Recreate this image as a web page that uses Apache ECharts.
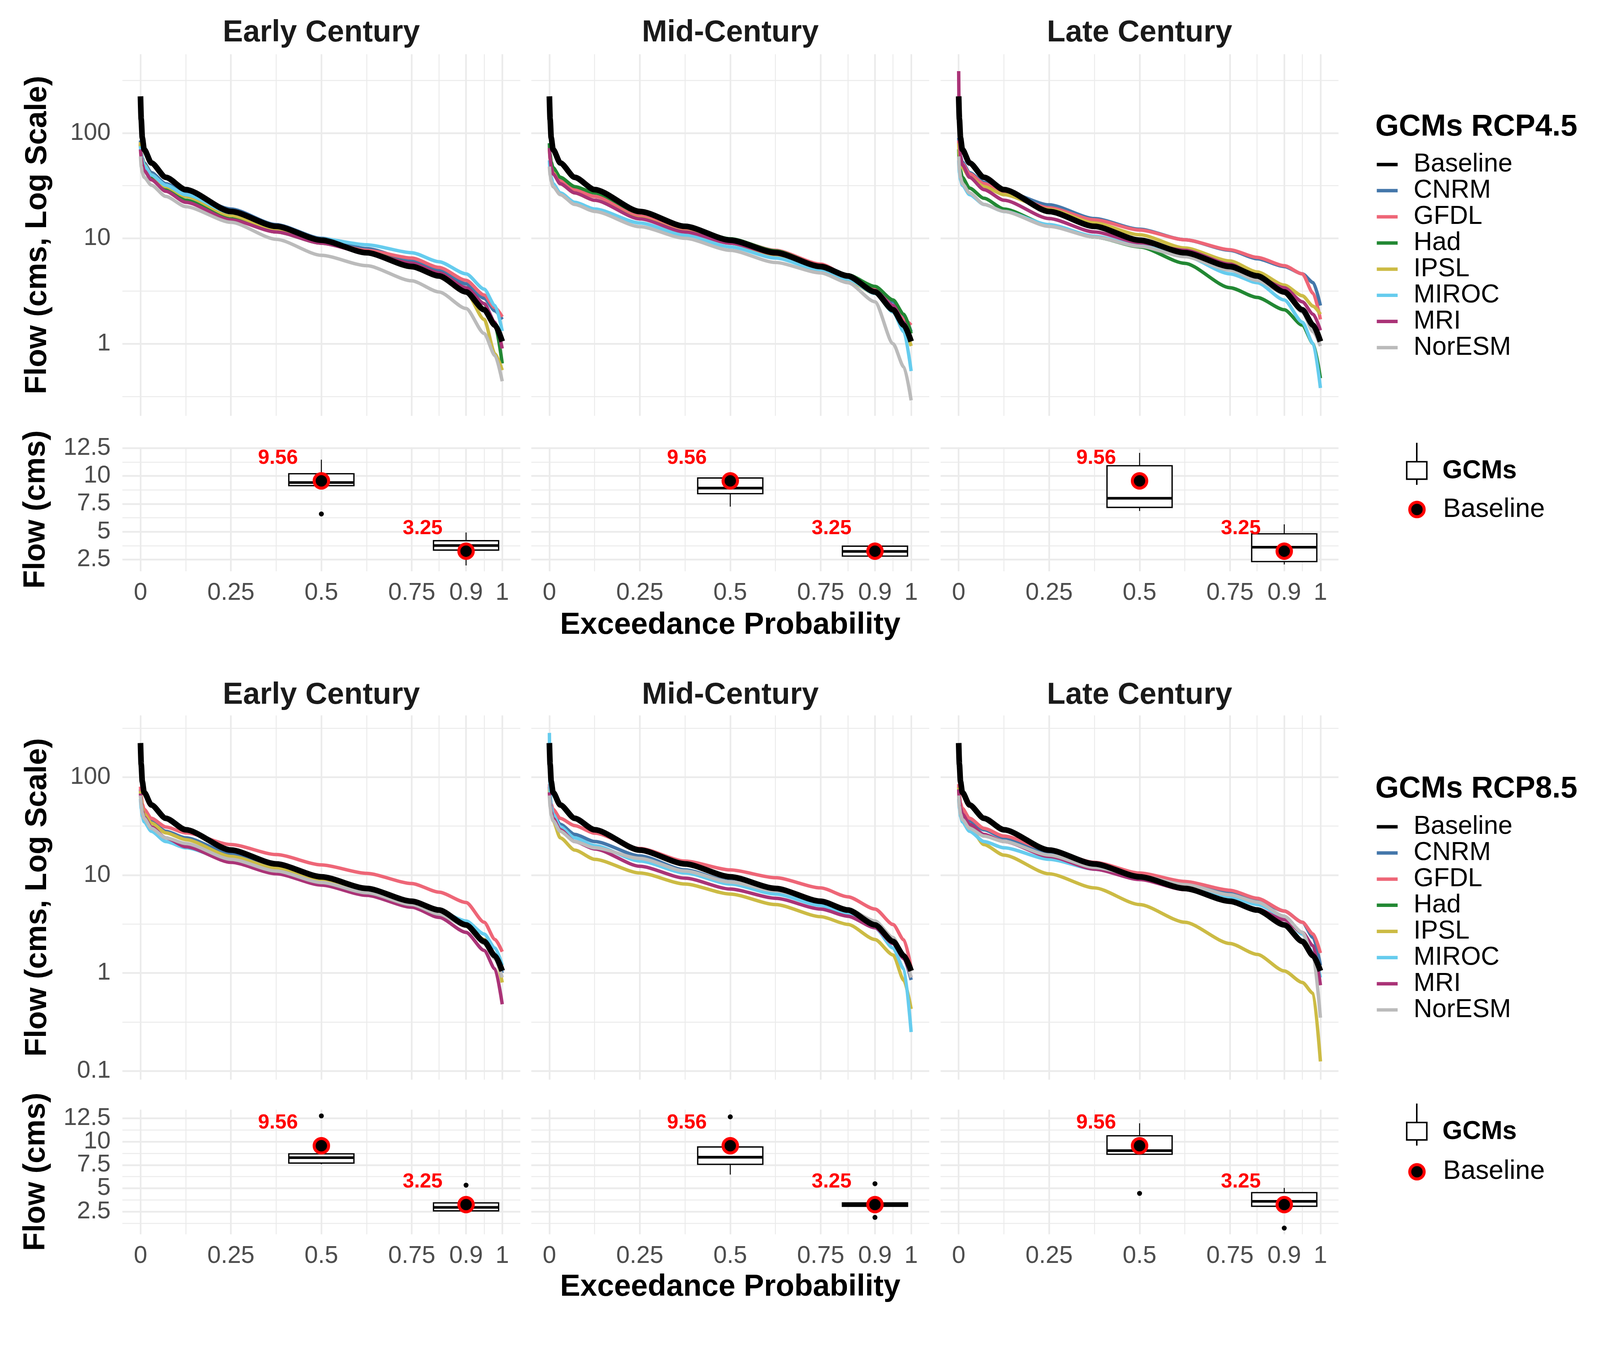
<!DOCTYPE html>
<html>
<head>
<meta charset="utf-8">
<script src="https://cdn.jsdelivr.net/npm/echarts@6/dist/echarts.min.js"></script>
<style>html,body{margin:0;padding:0;background:#fff;overflow:hidden;}#c{position:absolute;left:0;top:0;}</style>
</head>
<body>
<div id="c"></div>
<script>
// ---------------- DATA ----------------
const gcms = ['Baseline', 'CNRM', 'GFDL', 'Had', 'IPSL', 'MIROC', 'MRI', 'NorESM'];
const gcmColors = ['#000000', '#4477AA', '#EE6677', '#228833', '#CCBB44', '#66CCEE', '#AA3377', '#BBBBBB'];
const periods = ['Early Century', 'Mid-Century', 'Late Century'];
const scenarios = ['GCMs RCP4.5', 'GCMs RCP8.5'];

// exceedance probabilities at which the duration curves were read
const probs = [0, 0.002, 0.005, 0.01, 0.03, 0.07, 0.125, 0.25, 0.375, 0.5, 0.625, 0.75, 0.825, 0.9, 0.95, 0.98, 1];
const baselineFlow = [223, 135, 90, 70, 52, 38, 29, 18, 13, 9.6, 7.3, 5.4, 4.4, 3.1, 2.1, 1.5, 1.05];

// GCM flows, order: CNRM, GFDL, Had, IPSL, MIROC, MRI, NorESM (null = not drawn)
const flowR45Early = [
  [85, 68, 58, 52, 42, 33, 27, 19, 13.5, 10, 8.0, 6.2, 5.0, 3.7, 2.7, 2.05, 1.7],
  [80, 64, 55, 49, 39, 31, 25, 16.8, 12.2, 9.3, 7.7, 6.5, 5.3, 4.0, 2.9, 2.2, 1.8],
  [78, 62, 53, 47, 37, 29, 23, 15.3, 11.5, 9.0, 7.4, 5.8, 4.7, 3.4, 2.4, 1.5, 0.65],
  [82, 66, 56, 50, 40, 31, 25, 16.5, 12, 9.1, 7.3, 5.6, 4.5, 3.1, 1.7, 0.8, 0.56],
  [75, 63, 55, 49, 40, 32, 26, 17.5, 12.8, 9.9, 8.7, 7.3, 6.0, 4.6, 3.3, 2.3, 1.32],
  [70, 58, 50, 44, 36, 28, 22, 15, 11.5, 9.0, 7.3, 5.8, 4.7, 3.4, 2.4, 1.6, 0.9],
  [60, 48, 42, 38, 32, 25, 20, 14.2, 9.8, 6.9, 5.5, 3.95, 3.1, 2.16, 1.25, 0.77, 0.44]
];
const flowR45Mid = [
  [80, 62, 52, 46, 36, 29, 25, 16.8, 12.5, 9.6, 7.5, 5.6, 4.5, 3.4, 2.5, 1.8, 1.3],
  [75, 60, 50, 44, 35, 29, 25, 16.5, 12.3, 9.8, 7.7, 5.7, 4.4, 3.3, 2.3, 1.7, 1.5],
  [80, 63, 53, 47, 38, 31, 27, 17.5, 13, 9.9, 7.6, 5.5, 4.5, 3.5, 2.6, 1.9, 1.25],
  [70, 57, 47, 42, 33, 27, 23, 15.5, 11.6, 9.0, 6.9, 5.0, 4.0, 3.0, 2.0, 1.4, 0.95],
  [55, 44, 38, 33, 27, 22, 19, 14, 10.7, 8.3, 6.5, 5.0, 4.1, 3.0, 2.0, 1.3, 0.55],
  [72, 57, 47, 41, 33, 27, 23, 15.3, 11.5, 9.0, 7.1, 5.3, 4.3, 3.2, 2.3, 1.6, 1.1],
  [48, 40, 35, 31, 26, 21, 18, 12.9, 10, 7.7, 5.9, 4.7, 3.8, 2.5, 1.0, 0.6, 0.29]
];
const flowR45Late = [
  [90, 70, 60, 53, 42, 34, 28, 20.8, 15.4, 12.2, 9.7, 7.7, 6.4, 5.4, 4.6, 3.8, 2.3],
  [85, 68, 58, 51, 41, 33, 27, 19.5, 15, 12, 9.7, 7.8, 6.6, 5.5, 4.6, 3.0, 1.7],
  [70, 53, 44, 38, 30, 24, 19, 13.3, 10.3, 8.3, 5.8, 3.4, 2.75, 2.1, 1.5, 1.0, 0.47],
  [80, 63, 53, 47, 38, 31, 26, 18.8, 14, 10.8, 8.1, 6.1, 4.8, 3.6, 2.85, 2.27, 1.9],
  [55, 42, 36, 32, 26, 21, 18, 13.5, 10.5, 8.5, 6.8, 4.6, 3.8, 2.6, 1.6, 1.0, 0.38],
  [387, 90, 60, 50, 38, 29, 23, 15.4, 11.5, 9.1, 7.7, 5.7, 4.3, 3.4, 2.5, 1.9, 1.34],
  [60, 45, 38, 33, 27, 21, 18, 13, 10.3, 8.4, 6.7, 5.0, 4.0, 3.0, 2.0, 1.3, 0.95]
];
const flowR85Early = [
  [75, 60, 50, 44, 35, 28, 24, 16.5, 12.3, 9.3, 7.2, 5.4, 4.3, 3.1, 2.2, 1.5, 1.0],
  [80, 64, 53, 47, 38, 31, 27, 20.5, 16.2, 12.7, 10.4, 8.2, 6.7, 5.25, 3.3, 2.2, 1.65],
  null,
  [72, 58, 48, 42, 34, 27, 23, 15.5, 11.7, 9.0, 7.0, 5.3, 4.3, 3.1, 2.2, 1.5, 0.8],
  [60, 48, 40, 35, 28, 22, 19, 14, 10.6, 8.3, 6.6, 5.1, 4.3, 3.4, 2.5, 1.8, 1.2],
  [68, 54, 45, 39, 31, 24, 19.5, 13.5, 10.3, 7.9, 6.2, 4.7, 3.7, 2.6, 1.7, 1.1, 0.48],
  [65, 52, 43, 38, 30, 24, 21, 14.5, 11, 8.4, 6.6, 5.0, 4.0, 3.0, 2.0, 1.4, 0.9]
];
const flowR85Mid = [
  [80, 60, 48, 42, 33, 26, 22, 15.7, 11.3, 8.6, 6.6, 5.0, 4.0, 2.9, 2.0, 1.4, 0.85],
  [85, 65, 53, 47, 38, 32, 26.8, 18.7, 13.9, 11.3, 9.4, 7.4, 6.0, 4.5, 3.13, 2.18, 1.13],
  null,
  [75, 55, 45, 36, 24, 18, 14.5, 10.5, 8.1, 6.4, 5.0, 3.76, 3.14, 2.2, 1.53, 0.84, 0.43],
  [283, 70, 50, 42, 31, 24, 20, 13.9, 10.5, 8.1, 6.4, 4.9, 4.0, 2.9, 1.8, 1.1, 0.25],
  [70, 54, 44, 38, 29, 22, 18.5, 12.3, 9.3, 7.2, 5.8, 4.5, 3.8, 2.9, 2.0, 1.4, 0.9],
  [65, 50, 41, 36, 28, 22, 19, 14.8, 11, 8.5, 6.9, 5.4, 4.5, 3.4, 2.3, 1.5, 0.9]
];
const flowR85Late = [
  [80, 62, 52, 46, 36, 29, 24, 17, 12.8, 10.2, 8.3, 6.5, 5.5, 4.3, 3.3, 2.3, 1.2],
  [85, 65, 54, 48, 38, 30, 25, 18, 13.5, 10.5, 8.6, 7.0, 5.8, 4.3, 3.3, 2.5, 1.6],
  null,
  [78, 55, 45, 41, 31, 20.5, 16, 10.3, 7.4, 5.0, 3.3, 2.0, 1.55, 1.05, 0.8, 0.62, 0.125],
  [60, 48, 40, 35, 28, 22, 19, 14.5, 11.5, 9.3, 7.5, 6.0, 5.0, 3.8, 2.5, 1.6, 0.9],
  [75, 58, 48, 42, 33, 26, 22, 15.5, 11.5, 9.0, 7.1, 5.5, 4.5, 3.5, 2.6, 1.9, 0.75],
  [65, 50, 42, 37, 30, 25, 22, 16, 12, 9.8, 8.0, 6.3, 5.3, 3.8, 2.6, 1.5, 0.35]
];

// box statistics: [probability, min, Q1, median, Q3, max]
const boxR45Early = [[0.5, 9.1, 9.13, 9.41, 10.2, 11.46], [0.9, 1.97, 3.35, 3.76, 4.19, 4.93]];
const boxR45Mid   = [[0.5, 7.25, 8.41, 8.91, 9.82, 9.9], [0.9, 2.7, 2.81, 3.23, 3.70, 3.75]];
const boxR45Late  = [[0.5, 6.86, 7.18, 8.0, 10.92, 12.07], [0.9, 2.06, 2.32, 3.61, 4.81, 5.66]];
const boxR85Early = [[0.5, 7.58, 7.7, 8.28, 8.69, 8.9], [0.9, 2.5, 2.58, 2.95, 3.43, 3.5]];
const boxR85Mid   = [[0.5, 6.47, 7.57, 8.33, 9.43, 9.5], [0.9, 3.0, 3.07, 3.25, 3.43, 3.5]];
const boxR85Late  = [[0.5, 8.6, 8.65, 9.04, 10.63, 11.97], [0.9, 3.0, 3.07, 3.6, 4.53, 5.04]];
// outliers: [probability, flow]
const outR45Early = [[0.5, 6.59]];
const outR45Mid   = [];
const outR45Late  = [];
const outR85Early = [[0.5, 12.76], [0.9, 5.33]];
const outR85Mid   = [[0.5, 12.66], [0.9, 5.49], [0.9, 1.88]];
const outR85Late  = [[0.5, 4.45], [0.9, 0.73]];
// baseline flows at the two probabilities
const baselinePts = [[0.5, 9.56], [0.9, 3.25]];

// tick values
const xMajorTicks = [0, 0.25, 0.5, 0.75, 0.9, 1];
const xMinorTicks = [0.125, 0.375, 0.625, 0.825, 0.95];
const logMajorTop = [1, 10, 100];
const logMajorBottom = [0.1, 1, 10, 100];
const logMinorTicks = [0.3162, 3.162, 31.62, 316.2];
const boxMajorTicks = [2.5, 5, 7.5, 10, 12.5];
const boxMinorTicks = [1.25, 3.75, 6.25, 8.75, 11.25];
// box-panel tick labels, split over two axes so none is dropped for overlap
const boxLabelsA = [2.5, 7.5, 12.5];
const boxLabelsB = [5, 10];

// ---------------- LAYOUT (designed on a 4222 x 3483 frame, scaled to the viewport) ----------------
const VW = document.documentElement.clientWidth || window.innerWidth || 4222;
const VH = document.documentElement.clientHeight || window.innerHeight || 3483;
const K = Math.min(VW / 4222, VH / 3483);
function px(v) { return v * K; }

const FONT = "'Liberation Sans', Arial, Helvetica, sans-serif";
const GRID_COLOR = '#EBEBEB';
const TICK_COLOR = '#4D4D4D';
const COLS = [323, 1402, 2482];
const PW = 1050;
const ROWS = [
  { lineTop: 143, lineH: 954, boxTop: 1180, boxH: 327, logRange: [0.2065, 559.8], boxRange: [1.446, 12.57], logMajor: logMajorTop,
    flows: [flowR45Early, flowR45Mid, flowR45Late], boxes: [boxR45Early, boxR45Mid, boxR45Late], outs: [outR45Early, outR45Mid, outR45Late] },
  { lineTop: 1887, lineH: 961, boxTop: 2927, boxH: 329, logRange: [0.0815, 427.6], boxRange: [0.061, 13.435], logMajor: logMajorBottom,
    flows: [flowR85Early, flowR85Mid, flowR85Late], boxes: [boxR85Early, boxR85Mid, boxR85Late], outs: [outR85Early, outR85Mid, outR85Late] }
];
const X_RANGE = [-0.05, 1.05];
const BOX_W = 0.18;          // box width in probability units
const LABEL_NUDGE_X = -0.12; // label shift in probability units

const grids = [], xAxes = [], yAxes = [], series = [];

function xAxisCfg(g, ticks, width, showLabel) {
  return {
    type: 'value', gridIndex: g, min: X_RANGE[0], max: X_RANGE[1],
    axisLine: { show: false }, axisTick: { show: false, customValues: ticks },
    axisLabel: { show: showLabel, customValues: ticks, interval: 0, hideOverlap: false, showMinLabel: true, showMaxLabel: true,
      fontSize: px(64), lineHeight: px(64), color: TICK_COLOR, fontFamily: FONT, margin: px(26) },
    splitLine: { show: true, showMinLine: true, showMaxLine: true, lineStyle: { color: GRID_COLOR, width: px(width) } }
  };
}
function yAxisCfg(g, type, range, ticks, labels, width, showLabel) {
  const a = {
    type: type, gridIndex: g, position: 'left', min: range[0], max: range[1],
    axisLine: { show: false }, axisTick: { show: false, customValues: ticks },
    axisLabel: { show: showLabel, customValues: labels, interval: 0, hideOverlap: false, showMinLabel: true, showMaxLabel: true,
      fontSize: px(64), lineHeight: px(40), color: TICK_COLOR, fontFamily: FONT, margin: px(31) },
    splitLine: { show: true, showMinLine: true, showMaxLine: true, lineStyle: { color: GRID_COLOR, width: px(width) } }
  };
  if (type === 'log') a.logBase = 10;
  return a;
}

function renderBox(params, api) {
  const x = api.value(0);
  const pMin = api.coord([x, api.value(1)]);
  const pQ1 = api.coord([x, api.value(2)]);
  const pMd = api.coord([x, api.value(3)]);
  const pQ3 = api.coord([x, api.value(4)]);
  const pMax = api.coord([x, api.value(5)]);
  const half = api.size([BOX_W, 0])[0] / 2;
  const thin = { stroke: '#000', lineWidth: px(2.5) };
  return {
    type: 'group',
    children: [
      { type: 'line', shape: { x1: pMin[0], y1: pMin[1], x2: pQ1[0], y2: pQ1[1] }, style: thin },
      { type: 'line', shape: { x1: pQ3[0], y1: pQ3[1], x2: pMax[0], y2: pMax[1] }, style: thin },
      { type: 'rect', shape: { x: pQ3[0] - half, y: pQ3[1], width: 2 * half, height: pQ1[1] - pQ3[1] }, style: { fill: '#FFFFFF', stroke: '#000', lineWidth: px(3.5) } },
      { type: 'line', shape: { x1: pMd[0] - half, y1: pMd[1], x2: pMd[0] + half, y2: pMd[1] }, style: { stroke: '#000', lineWidth: px(7) } }
    ]
  };
}

let g = 0;
ROWS.forEach(function (R, r) {
  for (let c = 0; c < 3; c++) {
    // ---- duration-curve panel ----
    grids.push({ left: px(COLS[c]), top: px(R.lineTop), width: px(PW), height: px(R.lineH) });
    xAxes.push(xAxisCfg(g, xMajorTicks, 4.5, false), xAxisCfg(g, xMinorTicks, 2.5, false));
    yAxes.push(yAxisCfg(g, 'log', R.logRange, R.logMajor, R.logMajor, 4.5, c === 0),
               yAxisCfg(g, 'log', R.logRange, logMinorTicks, logMinorTicks, 2.5, false));
    const flows = R.flows[c];
    for (let k = 0; k < flows.length; k++) {
      if (!flows[k]) continue;
      const col = gcmColors[k + 1];
      series.push({
        type: 'line', name: gcms[k + 1], xAxisIndex: 2 * g, yAxisIndex: 2 * g,
        data: probs.map(function (p, i) { return [p, flows[k][i]]; }),
        symbol: 'none', showSymbol: false, smooth: 0.25, smoothMonotone: 'x',
        lineStyle: { color: col, width: px(9) }, itemStyle: { color: col }, z: 2, silent: true
      });
    }
    series.push({
      type: 'line', name: gcms[0], xAxisIndex: 2 * g, yAxisIndex: 2 * g,
      data: probs.map(function (p, i) { return [p, baselineFlow[i]]; }),
      symbol: 'none', showSymbol: false, smooth: 0.25, smoothMonotone: 'x',
      lineStyle: { color: gcmColors[0], width: px(15) }, itemStyle: { color: gcmColors[0] }, z: 3, silent: true
    });
    g++;

    // ---- box panel ----
    grids.push({ left: px(COLS[c]), top: px(R.boxTop), width: px(PW), height: px(R.boxH) });
    xAxes.push(xAxisCfg(g, xMajorTicks, 4.5, true), xAxisCfg(g, xMinorTicks, 2.5, false));
    yAxes.push(yAxisCfg(g, 'value', R.boxRange, boxMajorTicks, boxLabelsA, 4.5, c === 0),
               yAxisCfg(g, 'value', R.boxRange, boxMinorTicks, boxLabelsB, 2.5, c === 0));
    series.push({
      type: 'custom', name: 'GCMs', xAxisIndex: 2 * g, yAxisIndex: 2 * g,
      data: R.boxes[c], dimensions: ['p', 'min', 'q1', 'median', 'q3', 'max'],
      encode: { x: 0, y: [1, 2, 3, 4, 5] }, renderItem: renderBox, z: 2, silent: true
    });
    series.push({
      type: 'scatter', name: 'outliers', xAxisIndex: 2 * g, yAxisIndex: 2 * g,
      data: R.outs[c], symbol: 'circle', symbolSize: px(13), itemStyle: { color: '#000000', opacity: 1 }, z: 3, silent: true
    });
    series.push({
      type: 'scatter', name: 'Baseline point', xAxisIndex: 2 * g, yAxisIndex: 2 * g,
      data: baselinePts, symbol: 'circle', symbolSize: px(38),
      itemStyle: { color: '#000000', borderColor: '#FF0000', borderWidth: px(8), opacity: 1 }, z: 5, silent: true,
      label: {
        show: true, position: 'inside', offset: [LABEL_NUDGE_X * px(PW) / (X_RANGE[1] - X_RANGE[0]), px(-60)],
        formatter: function (p) { return p.value[1].toFixed(2); },
        color: '#FF0000', fontWeight: 'bold', fontSize: px(54), fontFamily: FONT
      }
    });
    g++;
  }
});

// ---------------- TEXT / KEYS ----------------
const graphics = [];
function txt(text, x, y, size, weight, color, align, rot) {
  graphics.push({
    type: 'text', x: px(x), y: px(y), rotation: rot || 0, z: 10,
    style: { text: text, fontSize: px(size), fontWeight: weight, fontFamily: FONT, fill: color, align: align || 'center', verticalAlign: 'middle' }
  });
}
const titleY = [87, 1834];
const lineMidY = [620, 2367];
const boxMidY = [1344, 3091];
const xTitleY = [1650, 3396];
const legTitleY = [336, 2082];
const legTop = [399.5, 2146.5];
const keyGcmY = [1243, 2986];
const keyBaseY = [1344, 3091];
for (let r = 0; r < 2; r++) {
  for (let c = 0; c < 3; c++) txt(periods[c], COLS[c] + PW / 2, titleY[r], 80, 'bold', '#1A1A1A');
  txt('Flow (cms, Log Scale)', 100, lineMidY[r], 80, 'bold', '#000', 'center', Math.PI / 2);
  txt('Flow (cms)', 95, boxMidY[r], 80, 'bold', '#000', 'center', Math.PI / 2);
  txt('Exceedance Probability', COLS[1] + PW / 2, xTitleY[r], 80, 'bold', '#000');
  txt(scenarios[r], 3629, legTitleY[r], 80, 'bold', '#000', 'left');
  // box / baseline key
  const gy = keyGcmY[r];
  graphics.push({ type: 'line', z: 10, shape: { x1: px(3738.5), y1: px(gy - 75), x2: px(3738.5), y2: px(gy + 36) }, style: { stroke: '#000', lineWidth: px(4) } });
  graphics.push({ type: 'rect', z: 11, shape: { x: px(3712), y: px(gy - 25), width: px(53), height: px(46) }, style: { fill: '#fff', stroke: '#000', lineWidth: px(4) } });
  txt('GCMs', 3806, gy, 68, 'bold', '#000', 'left');
  graphics.push({ type: 'circle', z: 10, shape: { cx: px(3739), cy: px(keyBaseY[r]), r: px(19) }, style: { fill: '#000', stroke: '#FF0000', lineWidth: px(8) } });
  txt('Baseline', 3808, keyBaseY[r], 70, 'normal', '#000', 'left');
}

const legends = [0, 1].map(function (r) {
  return {
    orient: 'vertical', left: px(3633), top: px(legTop[r]), padding: 0, itemGap: 0,
    itemWidth: px(55), itemHeight: px(9), icon: 'rect', selectedMode: false, data: gcms.slice(),
    textStyle: { fontSize: px(68), lineHeight: px(69), color: '#000', fontFamily: FONT, padding: [0, 0, 0, px(37)] }
  };
});

const el = document.getElementById('c');
el.style.width = VW + 'px';
el.style.height = VH + 'px';
const chart = echarts.init(el, null, { renderer: 'canvas', width: VW, height: VH });
chart.setOption({
  backgroundColor: '#FFFFFF',
  animation: false,
  grid: grids,
  xAxis: xAxes,
  yAxis: yAxes,
  legend: legends,
  series: series,
  graphic: graphics
});
</script>
</body>
</html>
